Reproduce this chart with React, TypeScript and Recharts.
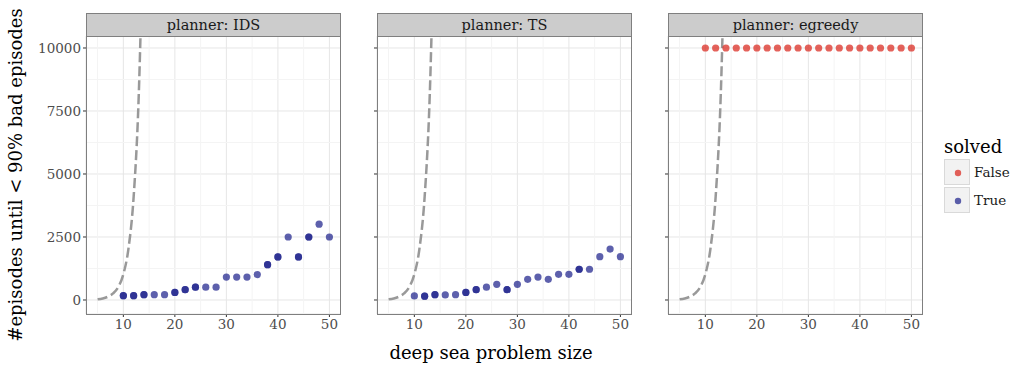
import { CartesianGrid, ComposedChart, Line, ReferenceLine, Scatter, XAxis, YAxis } from 'recharts';

const sizes = [10, 12, 14, 16, 18, 20, 22, 24, 26, 28, 30, 32, 34, 36, 38, 40, 42, 44, 46, 48, 50];
const idsEpisodes = [170, 170, 210, 210, 210, 300, 410, 510, 510, 510, 910, 910, 910, 1010, 1400, 1710, 2500, 1710, 2500, 3010, 2500];
const idsRuns = [2, 2, 2, 1, 1, 2, 2, 2, 1, 1, 1, 1, 1, 1, 2, 2, 1, 2, 2, 1, 1];
const tsEpisodes = [160, 150, 210, 200, 210, 300, 410, 510, 620, 410, 620, 820, 910, 820, 1020, 1020, 1220, 1220, 1720, 2020, 1720];
const tsRuns = [1, 2, 2, 1, 1, 2, 2, 1, 1, 2, 1, 1, 1, 1, 1, 1, 2, 1, 1, 1, 1];
const egreedyEpisodes = [10000, 10000, 10000, 10000, 10000, 10000, 10000, 10000, 10000, 10000, 10000, 10000, 10000, 10000, 10000, 10000, 10000, 10000, 10000, 10000, 10000];
const egreedyRuns = [1, 1, 1, 1, 1, 1, 1, 1, 1, 1, 1, 1, 1, 1, 1, 1, 1, 1, 1, 1, 1];

// dashed reference curve
const curveSizes = [5, 6, 7, 8, 9, 10, 11, 12, 13, 14];
const curveEpisodes = [30, 60, 130, 260, 510, 1020, 2050, 4100, 8190, 16380];

const xTicks = [10, 20, 30, 40, 50];
const yTicks = [0, 2500, 5000, 7500, 10000];
const xMinor = [5, 15, 25, 35, 45];
const yMinor = [1250, 3750, 6250, 8750];

const FONT = '"DejaVu Serif", serif';
const BLUE = '#1f228c';
const RED = '#d9261c';

const curve = curveSizes.map((x, i) => ({ x, y: curveEpisodes[i] }));

const buildPoints = (values: number[], runs: number[]) =>
  sizes.flatMap((x, i) => Array.from({ length: runs[i] }, () => ({ x, y: values[i] })));

const panels = [
  { title: 'planner: IDS', points: buildPoints(idsEpisodes, idsRuns), color: BLUE, plotLeft: 86, labels: true },
  { title: 'planner: TS', points: buildPoints(tsEpisodes, tsRuns), color: BLUE, plotLeft: 377, labels: false },
  { title: 'planner: egreedy', points: buildPoints(egreedyEpisodes, egreedyRuns), color: RED, plotLeft: 668, labels: false }
];

const PLOT_W = 255;
const PLOT_TOP = 36;
const PLOT_H = 278;
const X_AXIS_H = 30;

const Panel = ({ p }: { p: (typeof panels)[number] }) => {
  const yAxisW = p.labels ? 86 : 20;
  return (
    <>
      <div
        style={{
          position: 'absolute',
          left: p.plotLeft,
          top: 13,
          width: PLOT_W - 2,
          height: 22,
          background: '#cccccc',
          border: '1px solid #7f7f7f',
          fontFamily: FONT,
          fontSize: 14.5,
          color: '#1a1a1a',
          textAlign: 'center',
          lineHeight: '22px'
        }}
      >
        {p.title}
      </div>
      <div style={{ position: 'absolute', left: p.plotLeft - yAxisW, top: PLOT_TOP }}>
        <ComposedChart
          width={yAxisW + PLOT_W}
          height={PLOT_H + X_AXIS_H}
          margin={{ top: 0, right: 0, bottom: 0, left: 0 }}
        >
          {xMinor.map((v) => (
            <ReferenceLine key={`xm${v}`} x={v} stroke="#f4f4f4" strokeWidth={1} />
          ))}
          {yMinor.map((v) => (
            <ReferenceLine key={`ym${v}`} y={v} stroke="#f4f4f4" strokeWidth={1} />
          ))}
          <CartesianGrid stroke="#e6e6e6" strokeWidth={1} />
          <XAxis
            type="number"
            dataKey="x"
            domain={[2.75, 52.25]}
            ticks={xTicks}
            allowDataOverflow
            height={X_AXIS_H}
            axisLine={false}
            tickLine={{ stroke: '#333333' }}
            tickSize={3}
            tickMargin={2}
            tick={{ fill: '#4d4d4d', fontSize: 13.5, fontFamily: FONT }}
          />
          <YAxis
            type="number"
            dataKey="y"
            domain={[-556, 10476]}
            ticks={yTicks}
            allowDataOverflow
            width={yAxisW}
            axisLine={false}
            tickLine={{ stroke: '#333333' }}
            tickSize={3}
            tickMargin={2}
            tickFormatter={(v: number) => (p.labels ? String(v) : '')}
            tick={{ fill: '#4d4d4d', fontSize: 13.5, fontFamily: FONT }}
          />
          <Line
            data={curve}
            dataKey="y"
            type="monotone"
            stroke="#999999"
            strokeWidth={2.5}
            strokeDasharray="10 4"
            dot={false}
            isAnimationActive={false}
          />
          <Scatter
            data={p.points}
            dataKey="y"
            fill={p.color}
            fillOpacity={0.72}
            shape={(props: any) => <circle cx={props.cx} cy={props.cy} r={3.6} fill={p.color} fillOpacity={0.72} />}
            isAnimationActive={false}
          />
        </ComposedChart>
      </div>
      <div
        style={{
          position: 'absolute',
          left: p.plotLeft,
          top: PLOT_TOP,
          width: PLOT_W - 2,
          height: PLOT_H - 1,
          border: '1px solid #7f7f7f',
          pointerEvents: 'none'
        }}
      />
    </>
  );
};

export default function App() {
  return (
    <div style={{ position: 'absolute', left: 0, top: 0, width: 1032, height: 368, background: '#ffffff', fontFamily: FONT }}>
      {panels.map((p) => (
        <Panel key={p.title} p={p} />
      ))}
      <div
        style={{
          position: 'absolute',
          left: 491,
          top: 352,
          transform: 'translate(-50%, -50%)',
          fontSize: 18,
          color: '#000',
          whiteSpace: 'nowrap'
        }}
      >
        deep sea problem size
      </div>
      <div
        style={{
          position: 'absolute',
          left: 15,
          top: 175,
          transform: 'translate(-50%, -50%) rotate(-90deg)',
          fontSize: 18,
          color: '#000',
          whiteSpace: 'nowrap'
        }}
      >
        #episodes until &lt; 90% bad episodes
      </div>
      <div style={{ position: 'absolute', left: 944, top: 136, fontSize: 18, color: '#000', lineHeight: '22px' }}>solved</div>
      {[
        { label: 'False', color: RED, top: 159 },
        { label: 'True', color: BLUE, top: 187 }
      ].map((k) => (
        <div key={k.label}>
          <div
            style={{
              position: 'absolute',
              left: 944,
              top: k.top,
              width: 24,
              height: 24,
              background: '#f2f2f2',
              border: '1px solid #d9d9d9'
            }}
          >
            <svg width={24} height={24} style={{ position: 'absolute', left: 0, top: 0 }}>
              <circle cx={13} cy={13} r={3.2} fill={k.color} fillOpacity={0.72} />
            </svg>
          </div>
          <div style={{ position: 'absolute', left: 974, top: k.top + 4, fontSize: 13.5, color: '#1a1a1a', lineHeight: '18px' }}>
            {k.label}
          </div>
        </div>
      ))}
    </div>
  );
}
